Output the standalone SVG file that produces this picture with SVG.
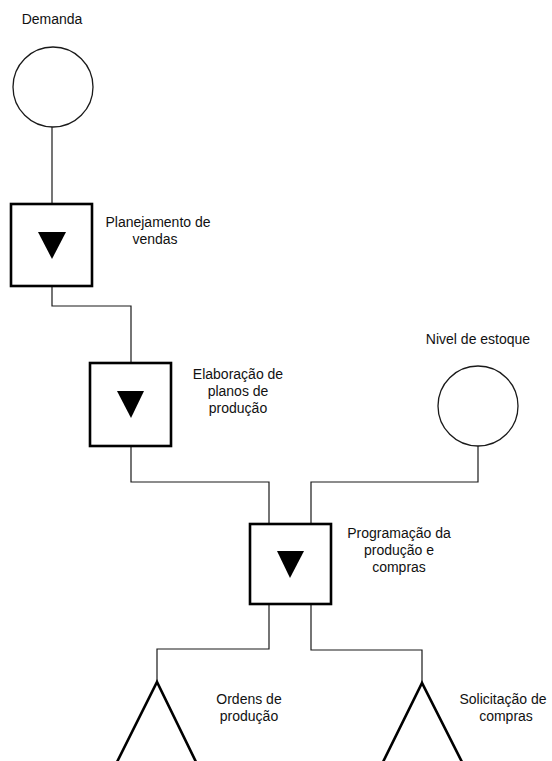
<svg xmlns="http://www.w3.org/2000/svg" width="552" height="761" viewBox="0 0 552 761">
  <style>
    .bg { fill: #ffffff; }
    .wire { fill: none; stroke: #1a1a1a; stroke-width: 1.2; }
    .circle { fill: #ffffff; stroke: #1a1a1a; stroke-width: 1.3; }
    .box { fill: #ffffff; stroke: #000000; stroke-width: 2.6; }
    .mark { fill: #000000; }
    .tri { fill: none; stroke: #000000; stroke-width: 2.6; stroke-linejoin: miter; }
    .label { font-family: "Liberation Sans", Arial, sans-serif; font-size: 14px; fill: #111111; text-anchor: middle; }
  </style>
  <rect class="bg" x="0" y="0" width="552" height="761"/>

  <!-- connectors -->
  <g id="connectors">
    <path class="wire" d="M52,127 V204"/>
    <path class="wire" d="M52,286 V306 H131 V363"/>
    <path class="wire" d="M131,447 V482 H269 V524"/>
    <path class="wire" d="M478,446 V482 H311 V524"/>
    <path class="wire" d="M269,604 V649 H157 V682"/>
    <path class="wire" d="M311,604 V650 H422 V683"/>
  </g>

  <!-- demand source -->
  <g id="demanda">
    <text class="label" x="52" y="24">Demanda</text>
    <circle class="circle" cx="53" cy="87" r="40"/>
  </g>

  <!-- sales planning -->
  <g id="planejamento-vendas">
    <rect class="box" x="11" y="204" width="81" height="82"/>
    <polygon class="mark" points="38,232 66,232 52,259"/>
    <text class="label" x="158" y="227">Planejamento de</text>
    <text class="label" x="155" y="244">vendas</text>
  </g>

  <!-- production plans -->
  <g id="planos-producao">
    <rect class="box" x="90" y="363" width="81" height="83"/>
    <polygon class="mark" points="117,391 144,391 131,418"/>
    <text class="label" x="238" y="379">Elaboração de</text>
    <text class="label" x="238" y="396">planos de</text>
    <text class="label" x="238" y="413">produção</text>
  </g>

  <!-- stock level source -->
  <g id="nivel-estoque">
    <text class="label" x="478" y="344">Nivel de estoque</text>
    <circle class="circle" cx="478" cy="406" r="40"/>
  </g>

  <!-- production and purchase scheduling -->
  <g id="programacao">
    <rect class="box" x="250" y="524" width="81" height="80"/>
    <polygon class="mark" points="277,551 304,551 290,578"/>
    <text class="label" x="399" y="538">Programação da</text>
    <text class="label" x="399" y="555">produção e</text>
    <text class="label" x="399" y="572">compras</text>
  </g>

  <!-- production orders -->
  <g id="ordens-producao">
    <polyline class="tri" points="116,764 157,682 197,764"/>
    <text class="label" x="249" y="704">Ordens de</text>
    <text class="label" x="249" y="721">produção</text>
  </g>

  <!-- purchase requests -->
  <g id="solicitacao-compras">
    <polyline class="tri" points="382,764 422,683 463,764"/>
    <text class="label" x="503" y="704">Solicitação de</text>
    <text class="label" x="506" y="721">compras</text>
  </g>
</svg>
